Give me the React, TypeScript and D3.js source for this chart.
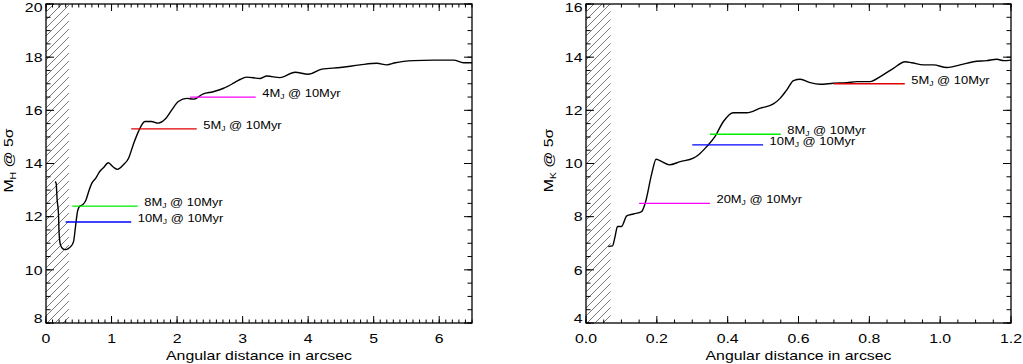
import React from 'react';
import * as d3 from 'd3';

// H band contrast (left panel)
const hSep = [0.14, 0.155, 0.17, 0.19, 0.2, 0.22, 0.26, 0.3, 0.34, 0.38, 0.42, 0.45, 0.48, 0.51, 0.57, 0.61, 0.65, 0.7, 0.76, 0.82, 0.88, 0.95, 1.03, 1.09, 1.18, 1.26, 1.33, 1.41, 1.51, 1.61, 1.71, 1.82, 1.92, 2.02, 2.15, 2.25, 2.4, 2.55, 2.71, 2.86, 2.96, 3.06, 3.27, 3.37, 3.57, 3.8, 4.0, 4.21, 4.49, 4.79, 5.05, 5.2, 5.33, 5.61, 5.91, 6.22, 6.37, 6.5];
const hMag = [13.32, 13.25, 12.63, 12.13, 11.38, 10.94, 10.79, 10.76, 10.8, 10.88, 11.06, 11.62, 12.19, 12.38, 12.47, 12.63, 12.94, 13.26, 13.45, 13.7, 13.85, 14.03, 13.86, 13.78, 13.95, 14.2, 14.7, 15.2, 15.58, 15.58, 15.52, 15.67, 16.02, 16.33, 16.45, 16.42, 16.62, 16.7, 16.83, 17.02, 17.16, 17.25, 17.2, 17.29, 17.23, 17.43, 17.36, 17.55, 17.61, 17.71, 17.77, 17.71, 17.79, 17.87, 17.89, 17.89, 17.79, 17.79];

// K band contrast (right panel)
const kSep = [0.063, 0.075, 0.082, 0.089, 0.1, 0.115, 0.134, 0.157, 0.167, 0.186, 0.198, 0.214, 0.235, 0.266, 0.303, 0.317, 0.341, 0.364, 0.388, 0.416, 0.454, 0.492, 0.529, 0.548, 0.567, 0.586, 0.605, 0.633, 0.661, 0.699, 0.736, 0.765, 0.802, 0.831, 0.868, 0.901, 0.92, 0.953, 0.981, 1.019, 1.056, 1.094, 1.132, 1.16, 1.18, 1.2];
const kMag = [6.88, 6.9, 7.25, 7.63, 7.63, 8.03, 8.1, 8.19, 8.5, 9.64, 10.16, 10.07, 9.95, 10.07, 10.2, 10.32, 10.64, 11.01, 11.58, 11.91, 11.91, 12.08, 12.24, 12.45, 12.77, 13.12, 13.17, 13.04, 12.98, 13.02, 13.04, 13.08, 13.08, 13.27, 13.58, 13.83, 13.79, 13.71, 13.71, 13.61, 13.71, 13.83, 13.87, 13.92, 13.87, 13.89];

// planet mass limits at 10 Myr
const hMass = ['4', '5', '8', '10'];
const hMassMag = [16.5, 15.3, 12.4, 11.8];
const hMassFrom = [2.2, 1.3, 0.4, 0.3];
const hMassTo = [3.2, 2.3, 1.4, 1.3];
const hMassColor = ['#ff00ff', '#e00000', '#00ee00', '#0000ff'];

const kMass = ['5', '8', '10', '20'];
const kMassMag = [13.0, 11.1, 10.7, 8.5];
const kMassFrom = [0.7, 0.35, 0.3, 0.15];
const kMassTo = [0.9, 0.55, 0.5, 0.35];
const kMassColor = ['#e00000', '#00ee00', '#0000ff', '#ff00ff'];

const hXTicks = [0, 1, 2, 3, 4, 5, 6];
const kXTicks = [0, 0.2, 0.4, 0.6, 0.8, 1.0, 1.2];
const hYTicks = [8, 10, 12, 14, 16, 18, 20];
const kYTicks = [4, 6, 8, 10, 12, 14, 16];

const FONT = 'Liberation Sans, Arial, Helvetica, sans-serif';
const SX = 1.22; // the original font is set wide

function T({ x, y, size = 13, anchor = 'start', rot = false, dy, children }: any) {
  return (
    <text
      transform={`translate(${x},${y})${rot ? ' rotate(-90)' : ''} scale(${SX},1)`}
      fontFamily={FONT}
      fontSize={size}
      textAnchor={anchor}
      dy={dy}
      fill="#000"
    >
      {children}
    </text>
  );
}

function Panel(p: any) {
  const x = d3.scaleLinear().domain(p.xDomain).range([p.left, p.right]);
  const y = d3.scaleLinear().domain(p.yDomain).range([p.bottom, p.top]);
  const line = d3
    .line<number>()
    .x((d, i) => x(p.sep[i]))
    .y((d) => y(d))
    .curve(d3.curveMonotoneX);

  const nx = Math.round((p.xDomain[1] - p.xDomain[0]) / p.xMinor);
  const xMinor = d3.range(nx + 1).map((i) => p.xDomain[0] + i * p.xMinor);
  const ny = Math.round((p.yDomain[1] - p.yDomain[0]) / p.yMinor);
  const yMinor = d3.range(ny + 1).map((i) => p.yDomain[0] + i * p.yMinor);

  const hx0 = p.left;
  const hx1 = x(p.hatchTo);
  const hatch = d3.range(hx0 + p.top, hx1 + p.bottom + 8, 8);
  const clip = `clip-${p.id}`;

  const xMaj = 7, xMin = 3.5, yMaj = 8, yMin = 4.5;

  return (
    <g>
      <defs>
        <clipPath id={clip}>
          <rect x={hx0} y={p.top} width={hx1 - hx0} height={p.bottom - p.top} />
        </clipPath>
      </defs>
      <g clipPath={`url(#${clip})`} stroke="#555" strokeWidth={0.8}>
        {hatch.map((c, i) => (
          <line key={i} x1={hx0} y1={c - hx0} x2={hx1} y2={c - hx1} />
        ))}
      </g>

      <path d={line(p.mag) || ''} fill="none" stroke="#000" strokeWidth={1.4} />

      {p.marks.map((m: string, i: number) => (
        <g key={m}>
          <line
            x1={x(p.markFrom[i])}
            x2={x(p.markTo[i])}
            y1={y(p.markMag[i])}
            y2={y(p.markMag[i])}
            stroke={p.markColor[i]}
            strokeWidth={1.3}
          />
          <T x={x(p.markTo[i]) + 6.5} y={y(p.markMag[i])} size={10.6}>
            {m}M
            <tspan fontSize={7} dy={2}>J</tspan>
            <tspan dy={-2}> @ 10Myr</tspan>
          </T>
        </g>
      ))}

      <g stroke="#000" strokeWidth={1}>
        {xMinor.map((v, i) => (
          <g key={'xm' + i}>
            <line x1={x(v)} x2={x(v)} y1={p.bottom} y2={p.bottom - xMin} />
            <line x1={x(v)} x2={x(v)} y1={p.top} y2={p.top + xMin} />
          </g>
        ))}
        {p.xTicks.map((v: number, i: number) => (
          <g key={'xM' + i}>
            <line x1={x(v)} x2={x(v)} y1={p.bottom} y2={p.bottom - xMaj} />
            <line x1={x(v)} x2={x(v)} y1={p.top} y2={p.top + xMaj} />
          </g>
        ))}
        {yMinor.map((v, i) => (
          <g key={'ym' + i}>
            <line x1={p.left} x2={p.left + yMin} y1={y(v)} y2={y(v)} />
            <line x1={p.right} x2={p.right - yMin} y1={y(v)} y2={y(v)} />
          </g>
        ))}
        {p.yTicks.map((v: number, i: number) => (
          <g key={'yM' + i}>
            <line x1={p.left} x2={p.left + yMaj} y1={y(v)} y2={y(v)} />
            <line x1={p.right} x2={p.right - yMaj} y1={y(v)} y2={y(v)} />
          </g>
        ))}
      </g>
      <rect
        x={p.left}
        y={p.top}
        width={p.right - p.left}
        height={p.bottom - p.top}
        fill="none"
        stroke="#000"
        strokeWidth={1.3}
      />

      {p.xTicks.map((v: number, i: number) => (
        <T key={'xl' + i} x={x(v)} y={342.5} anchor="middle">
          {p.xFormat(v)}
        </T>
      ))}
      {p.yTicks.map((v: number, i: number) => (
        <T
          key={'yl' + i}
          x={p.left - 3.5}
          y={Math.min(Math.max(y(v), p.top + 3.5), p.bottom - 5)}
          anchor="end"
          dy="0.36em"
        >
          {String(v)}
        </T>
      ))}

      <T x={(p.left + p.right) / 2} y={360} anchor="middle">
        Angular distance in arcsec
      </T>
      <T x={p.left - 33.5} y={160.5} anchor="middle" rot>
        M
        <tspan fontSize={8.5} dy={3}>{p.band}</tspan>
        <tspan dy={-3}> @ 5σ</tspan>
      </T>
    </g>
  );
}

export default function App() {
  return (
    <svg
      width={1023}
      height={364}
      style={{ position: 'absolute', left: 0, top: 0, background: '#fff' }}
    >
      <rect width={1023} height={364} fill="#fff" />
      <Panel
        id="h"
        left={46}
        right={472}
        top={4}
        bottom={323}
        xDomain={[0, 6.5]}
        yDomain={[8, 20]}
        xMinor={0.1}
        yMinor={0.5}
        xTicks={hXTicks}
        yTicks={hYTicks}
        xFormat={(v: number) => d3.format('d')(v)}
        hatchTo={0.35}
        sep={hSep}
        mag={hMag}
        marks={hMass}
        markMag={hMassMag}
        markFrom={hMassFrom}
        markTo={hMassTo}
        markColor={hMassColor}
        band="H"
      />
      <Panel
        id="k"
        left={586}
        right={1011}
        top={4}
        bottom={323}
        xDomain={[0, 1.2]}
        yDomain={[4, 16]}
        xMinor={0.05}
        yMinor={0.5}
        xTicks={kXTicks}
        yTicks={kYTicks}
        xFormat={(v: number) => d3.format('.1f')(v)}
        hatchTo={0.07}
        sep={kSep}
        mag={kMag}
        marks={kMass}
        markMag={kMassMag}
        markFrom={kMassFrom}
        markTo={kMassTo}
        markColor={kMassColor}
        band="K"
      />
    </svg>
  );
}
